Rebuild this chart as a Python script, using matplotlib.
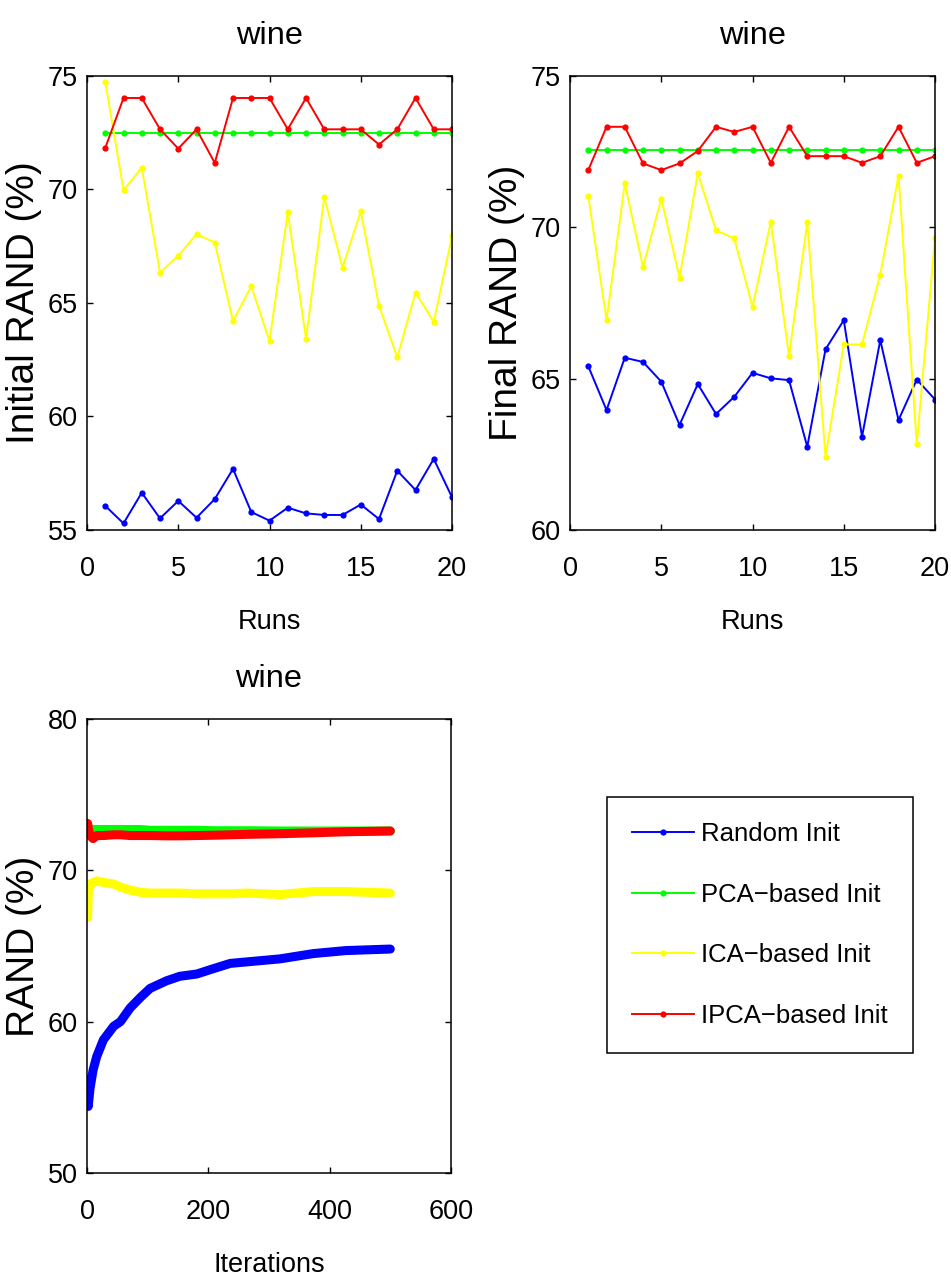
import matplotlib
matplotlib.use("Agg")
import matplotlib.pyplot as plt

plt.rcParams['font.family'] = ['Liberation Sans Narrow', 'Liberation Sans', 'DejaVu Sans']
plt.rcParams['font.size'] = 19.5
plt.rcParams['axes.linewidth'] = 1.1

# --- series values ---
runs = list(range(1, 21))
labels = ['Random Init', 'PCA\u2212based Init', 'ICA\u2212based Init', 'IPCA\u2212based Init']
colors = ['#0000ff', '#00ff00', '#ffff00', '#ff0000']

init_random = [56.06, 55.29, 56.64, 55.51, 56.28, 55.54, 56.36, 57.69, 55.79, 55.41,
               55.98, 55.73, 55.66, 55.66, 56.12, 55.48, 57.61, 56.76, 58.13, 56.44]
init_pca = [72.48] * 20
init_ica = [74.74, 69.97, 70.96, 66.34, 67.08, 68.03, 67.66, 64.20, 65.74, 63.32,
            69.01, 63.42, 69.67, 66.56, 69.04, 64.88, 62.60, 65.46, 64.17, 67.94]
init_ipca = [71.83, 74.03, 74.03, 72.65, 71.80, 72.65, 71.17, 74.03, 74.03, 74.03,
             72.65, 74.03, 72.65, 72.65, 72.65, 71.98, 72.65, 74.03, 72.65, 72.65]

final_random = [65.41, 63.96, 65.69, 65.55, 64.90, 63.47, 64.82, 63.83, 64.40, 65.19,
                65.01, 64.95, 62.75, 65.97, 66.93, 63.08, 66.27, 63.63, 64.97, 64.31]
final_pca = [72.55] * 20
final_ica = [71.03, 66.93, 71.45, 68.69, 70.95, 68.34, 71.78, 69.90, 69.63, 67.37,
             70.18, 65.75, 70.16, 62.42, 66.13, 66.13, 68.44, 71.70, 62.83, 69.65]
final_ipca = [71.89, 73.32, 73.32, 72.11, 71.89, 72.11, 72.52, 73.32, 73.15, 73.32,
              72.13, 73.32, 72.35, 72.35, 72.35, 72.13, 72.35, 73.32, 72.13, 72.35]

iters = [1, 2, 5, 10, 16, 27, 44, 55, 71, 88, 104, 131, 153, 181, 208, 236, 263,
         318, 373, 427, 500]
iter_random = [56.2, 54.4, 55.6, 56.8, 57.7, 58.8, 59.7, 60.0, 60.9, 61.6, 62.2,
               62.7, 63.0, 63.15, 63.5, 63.85, 63.95, 64.15, 64.5, 64.7, 64.8]
iter_pca = [72.7, 72.7, 72.7, 72.7, 72.7, 72.7, 72.7, 72.7, 72.7, 72.7, 72.65,
            72.65, 72.65, 72.65, 72.62, 72.62, 72.62, 72.6, 72.6, 72.6, 72.6]
iter_ica = [66.9, 68.5, 69.1, 69.2, 69.3, 69.2, 69.1, 68.9, 68.7, 68.55, 68.5,
            68.5, 68.5, 68.45, 68.45, 68.45, 68.5, 68.4, 68.6, 68.6, 68.5]
iter_ipca = [73.1, 72.8, 72.3, 72.1, 72.3, 72.3, 72.35, 72.35, 72.3, 72.3, 72.3,
             72.28, 72.28, 72.3, 72.32, 72.35, 72.38, 72.42, 72.48, 72.55, 72.6]


def matlab_axes(ax, xlab, ylab):
    ax.tick_params(direction='in', top=True, right=True, length=4.5, width=1.0)
    ax.tick_params(axis='x', pad=19)
    ax.tick_params(axis='y', pad=6.5)
    ax.set_title('wine', pad=23)
    ax.set_xlabel(xlab, labelpad=19)
    ax.set_ylabel(ylab, fontsize=28, labelpad=4)


fig = plt.figure(figsize=(9.51, 12.81), dpi=100)

ax1 = fig.add_axes([0.0915, 0.5863, 0.3838, 0.3544])
ax2 = fig.add_axes([0.5994, 0.5863, 0.3838, 0.3544])
ax3 = fig.add_axes([0.0915, 0.0843, 0.3827, 0.3544])

handles = []
for vals, c, lab in zip([init_random, init_pca, init_ica, init_ipca], colors, labels):
    h, = ax1.plot(runs, vals, '-o', color=c, lw=1.4, ms=4.5, mew=0, label=lab)
    handles.append(h)
ax1.set_xlim(0, 20)
ax1.set_ylim(55, 75)
ax1.set_xticks([0, 5, 10, 15, 20])
ax1.set_yticks([55, 60, 65, 70, 75])
matlab_axes(ax1, 'Runs', 'Initial RAND (%)')

for vals, c in zip([final_random, final_pca, final_ica, final_ipca], colors):
    ax2.plot(runs, vals, '-o', color=c, lw=1.4, ms=4.5, mew=0)
ax2.set_xlim(0, 20)
ax2.set_ylim(60, 75)
ax2.set_xticks([0, 5, 10, 15, 20])
ax2.set_yticks([60, 65, 70, 75])
matlab_axes(ax2, 'Runs', 'Final RAND (%)')

for vals, c in zip([iter_random, iter_pca, iter_ica, iter_ipca], colors):
    ax3.plot(iters, vals, '-', color=c, lw=6.5, solid_capstyle='round',
             solid_joinstyle='round')
ax3.set_xlim(0, 600)
ax3.set_ylim(50, 80)
ax3.set_xticks([0, 200, 400, 600])
ax3.set_yticks([50, 60, 70, 80])
matlab_axes(ax3, 'Iterations', 'RAND (%)')

leg = fig.legend(handles=handles, loc='upper left', bbox_to_anchor=(0.638, 0.3778),
                 frameon=True, fancybox=False, framealpha=1, edgecolor='black',
                 fontsize=18.5, handlelength=2.4, handletextpad=0.3,
                 labelspacing=1.42, borderpad=0.98, borderaxespad=0)
leg.get_frame().set_linewidth(1.1)

fig.savefig('out.png', dpi=100)
